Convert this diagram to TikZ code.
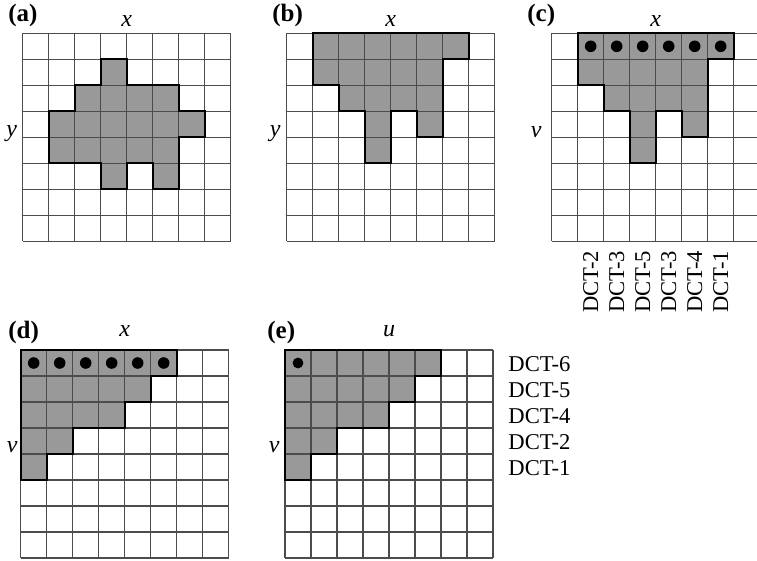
\documentclass[tikz,border=0pt]{standalone}
\usepackage{fontspec}
\setmainfont{Liberation Serif}

\begin{document}
\begin{tikzpicture}[
    x=0.5pt, y=-0.5pt,
    gridline/.style={draw=black!70, line width=0.6pt},
    shade/.style={fill=black!40},
    region/.style={draw=black, line width=1pt, line join=miter},
    dotmark/.style={fill=black},
    panel/.style={inner sep=0pt, anchor=base west, font=\fontsize{12.5}{14}\selectfont\bfseries},
    axis/.style={inner sep=0pt, anchor=base, font=\fontsize{12}{14}\selectfont\itshape},
    dct/.style={inner sep=0pt, font=\fontsize{11.3}{13}\selectfont}
  ]
  \useasboundingbox (0,0) rectangle (757,561);

  % (a) block in the x-y domain
  \begin{scope}[shift={(22.7,33.3)}, x=13pt, y=-13pt]
    \fill[shade] (3,1) -- (4,1) -- (4,2) -- (6,2) -- (6,3) -- (7,3) -- (7,4) -- (6,4) -- (6,6) -- (5,6) -- (5,5) -- (4,5) -- (4,6) -- (3,6) -- (3,5) -- (1,5) -- (1,3) -- (2,3) -- (2,2) -- (3,2) -- cycle;
    \foreach \i in {0,...,8} {
      \draw[gridline] (\i,0) -- (\i,8);
      \draw[gridline] (0,\i) -- (8,\i);
    }
    \draw[region] (3,1) -- (4,1) -- (4,2) -- (6,2) -- (6,3) -- (7,3) -- (7,4) -- (6,4) -- (6,6) -- (5,6) -- (5,5) -- (4,5) -- (4,6) -- (3,6) -- (3,5) -- (1,5) -- (1,3) -- (2,3) -- (2,2) -- (3,2) -- cycle;
  \end{scope}

  % (b) shifted up
  \begin{scope}[shift={(286.7,33.3)}, x=13pt, y=-13pt]
    \fill[shade] (1,0) -- (7,0) -- (7,1) -- (6,1) -- (6,4) -- (5,4) -- (5,3) -- (4,3) -- (4,5) -- (3,5) -- (3,3) -- (2,3) -- (2,2) -- (1,2) -- cycle;
    \foreach \i in {0,...,8} {
      \draw[gridline] (\i,0) -- (\i,8);
      \draw[gridline] (0,\i) -- (8,\i);
    }
    \draw[region] (1,0) -- (7,0) -- (7,1) -- (6,1) -- (6,4) -- (5,4) -- (5,3) -- (4,3) -- (4,5) -- (3,5) -- (3,3) -- (2,3) -- (2,2) -- (1,2) -- cycle;
  \end{scope}

  % (c) vertical transforms per column
  \begin{scope}[shift={(551.7,33.3)}, x=13pt, y=-13pt]
    \fill[shade] (1,0) -- (7,0) -- (7,1) -- (6,1) -- (6,4) -- (5,4) -- (5,3) -- (4,3) -- (4,5) -- (3,5) -- (3,3) -- (2,3) -- (2,2) -- (1,2) -- cycle;
    \foreach \i in {0,...,8} {
      \draw[gridline] (\i,0) -- (\i,8);
      \draw[gridline] (0,\i) -- (8,\i);
    }
    \draw[region] (1,0) -- (7,0) -- (7,1) -- (6,1) -- (6,4) -- (5,4) -- (5,3) -- (4,3) -- (4,5) -- (3,5) -- (3,3) -- (2,3) -- (2,2) -- (1,2) -- cycle;
    \foreach \c in {1,...,6}
      \fill[dotmark] (\c+0.5,0.5) circle (2.9pt);
    \foreach \lab [count=\c] in {DCT-2,DCT-3,DCT-5,DCT-3,DCT-4,DCT-1}
      \node[dct, rotate=90, anchor=east] (c-dct-\c) at (\c+0.5,8.35) {\lab};
  \end{scope}

  % (d) shifted left
  \begin{scope}[shift={(20.7,350)}, x=13pt, y=-13pt]
    \fill[shade] (0,0) -- (6,0) -- (6,1) -- (5,1) -- (5,2) -- (4,2) -- (4,3) -- (2,3) -- (2,4) -- (1,4) -- (1,5) -- (0,5) -- cycle;
    \foreach \i in {0,...,8} {
      \draw[gridline] (\i,0) -- (\i,8);
      \draw[gridline] (0,\i) -- (8,\i);
    }
    \draw[region] (0,0) -- (6,0) -- (6,1) -- (5,1) -- (5,2) -- (4,2) -- (4,3) -- (2,3) -- (2,4) -- (1,4) -- (1,5) -- (0,5) -- cycle;
    \foreach \c in {0,...,5}
      \fill[dotmark] (\c+0.5,0.5) circle (2.9pt);
  \end{scope}

  % (e) horizontal transforms per row
  \begin{scope}[shift={(285,350)}, x=13pt, y=-13pt]
    \fill[shade] (0,0) -- (6,0) -- (6,1) -- (5,1) -- (5,2) -- (4,2) -- (4,3) -- (2,3) -- (2,4) -- (1,4) -- (1,5) -- (0,5) -- cycle;
    \foreach \i in {0,...,8} {
      \draw[gridline] (\i,0) -- (\i,8);
      \draw[gridline] (0,\i) -- (8,\i);
    }
    \draw[region] (0,0) -- (6,0) -- (6,1) -- (5,1) -- (5,2) -- (4,2) -- (4,3) -- (2,3) -- (2,4) -- (1,4) -- (1,5) -- (0,5) -- cycle;
    \fill[dotmark] (0.5,0.5) circle (2.7pt);
    \foreach \lab [count=\r from 0] in {DCT-6,DCT-5,DCT-4,DCT-2,DCT-1}
      \node[dct, anchor=west] (e-dct-\r) at (8.58,\r+0.55) {\lab};
  \end{scope}

  % panel letters and axis names
  \node[panel] (lab-a) at (8,22) {(a)};
  \node[panel] (lab-b) at (272,22) {(b)};
  \node[panel] (lab-c) at (527,22) {(c)};
  \node[panel] (lab-d) at (8,339) {(d)};
  \node[panel] (lab-e) at (267,339) {(e)};

  \node[axis] (ax-a) at (126.7,27) {x};
  \node[axis] (ax-b) at (390.7,27) {x};
  \node[axis] (ax-c) at (655.7,27) {x};
  \node[axis] (ax-d) at (124.7,337) {x};
  \node[axis] (ax-e) at (389,337) {u};

  \node[axis, anchor=base east] (ay-a) at (17.5,137) {y};
  \node[axis, anchor=base east] (ay-b) at (281,137) {y};
  \node[axis, anchor=base east] (ay-c) at (542,138) {v};
  \node[axis, anchor=base east] (ay-d) at (18,453) {v};
  \node[axis, anchor=base east] (ay-e) at (280,453) {v};
\end{tikzpicture}
\end{document}
